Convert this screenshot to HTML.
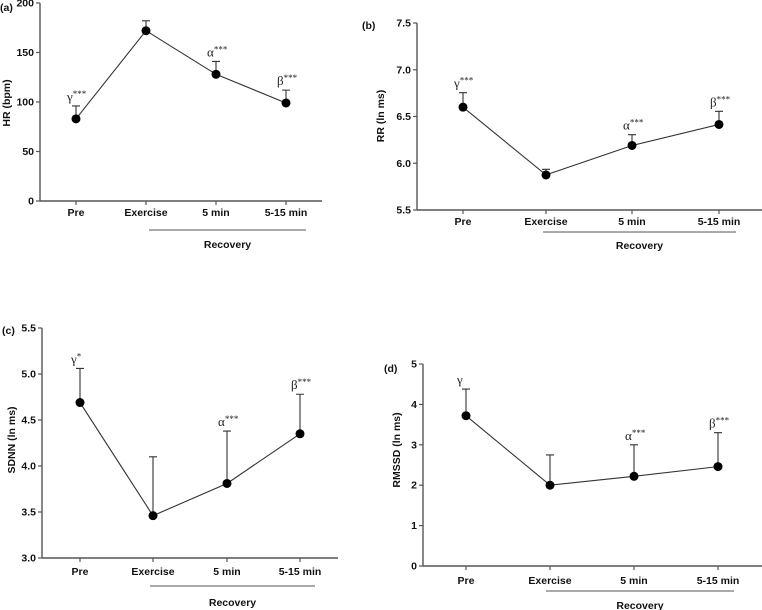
<!DOCTYPE html>
<html><head><meta charset="utf-8"><style>
html,body{margin:0;padding:0;background:#fff;}
svg{display:block;font-family:"Liberation Sans",Arial,sans-serif;}
.tk{font-size:10.5px;font-weight:bold;fill:#111;}
.yl{font-size:10.5px;font-weight:bold;fill:#111;}
.an{font-family:"Liberation Serif",serif;font-size:13px;fill:#222;}
</style></head><body>
<svg id="chart" width="762" height="610" viewBox="0 0 762 610"></svg>
<script>
const categories = ["Pre","Exercise","5 min","5-15 min"];
const hrValues = [83, 172, 128, 99];
const hrErrTop = [96, 182, 141, 112];
const hrTicks = [0, 50, 100, 150, 200];
const hrTickLabels = ["0","50","100","150","200"];
const hrAnnot = [["γ","***"],null,["α","***"],["β","***"]];
const rrValues = [6.60, 5.875, 6.19, 6.415];
const rrErrTop = [6.755, 5.935, 6.305, 6.555];
const rrTicks = [5.5, 6.0, 6.5, 7.0, 7.5];
const rrTickLabels = ["5.5","6.0","6.5","7.0","7.5"];
const rrAnnot = [["γ","***"],null,["α","***"],["β","***"]];
const sdnnValues = [4.69, 3.46, 3.81, 4.35];
const sdnnErrTop = [5.06, 4.10, 4.38, 4.78];
const sdnnTicks = [3.0, 3.5, 4.0, 4.5, 5.0, 5.5];
const sdnnTickLabels = ["3.0","3.5","4.0","4.5","5.0","5.5"];
const sdnnAnnot = [["γ","*"],null,["α","***"],["β","***"]];
const rmssdValues = [3.72, 2.0, 2.22, 2.46];
const rmssdErrTop = [4.38, 2.75, 3.0, 3.3];
const rmssdTicks = [0, 1, 2, 3, 4, 5];
const rmssdTickLabels = ["0","1","2","3","4","5"];
const rmssdAnnot = [["γ",""],null,["α","***"],["β","***"]];

const NS="http://www.w3.org/2000/svg";
const svg=document.getElementById('chart');
function mk(tag,attrs,parent,text){const e=document.createElementNS(NS,tag);for(const k in attrs)e.setAttribute(k,attrs[k]);if(text!==undefined)e.textContent=text;(parent||svg).appendChild(e);return e;}

const panels=[
 {key:"a",label:"(a)",lx:0,ly:11,ytitle:"HR (bpm)",ytx:10,yty:103,ax:40,yTop:3,yBot:201,xEnd:322,cx:[76,146,216,286],tickY:216,recY:230,rx1:149,rx2:306,recTextY:248,vals:hrValues,err:hrErrTop,ticks:hrTicks,tl:hrTickLabels,ann:hrAnnot},
 {key:"b",label:"(b)",lx:362,ly:29,ytitle:"RR (ln ms)",ytx:384,yty:116,ax:417,yTop:23,yBot:210,xEnd:762,cx:[463,546,632,719],tickY:225,recY:232,rx1:543,rx2:736,recTextY:249,vals:rrValues,err:rrErrTop,ticks:rrTicks,tl:rrTickLabels,ann:rrAnnot},
 {key:"c",label:"(c)",lx:2,ly:334,ytitle:"SDNN (ln ms)",ytx:15,yty:440,ax:42,yTop:328,yBot:558,xEnd:338,cx:[80,153,227,300],tickY:575,recY:586,rx1:150,rx2:315,recTextY:606,vals:sdnnValues,err:sdnnErrTop,ticks:sdnnTicks,tl:sdnnTickLabels,ann:sdnnAnnot},
 {key:"d",label:"(d)",lx:384,ly:372,ytitle:"RMSSD (ln ms)",ytx:400,yty:450,ax:423,yTop:364,yBot:566,xEnd:762,cx:[466,550,634,718],tickY:584,recY:591,rx1:546,rx2:734,recTextY:609,vals:rmssdValues,err:rmssdErrTop,ticks:rmssdTicks,tl:rmssdTickLabels,ann:rmssdAnnot}
];

panels.forEach(p=>{
 const g=mk('g',{});
 
 
 const y0=p.ticks[0],y1=p.ticks[p.ticks.length-1];
 const ys=v=>p.yBot-(v-y0)/(y1-y0)*(p.yBot-p.yTop);
 const xs=i=>p.cx[i];
 const pl=mk('text',{x:p.lx,y:p.ly,class:'tk','font-size':'11'},g,p.label);
 
 
 const ya=mk('line',{x1:p.ax,y1:p.yTop,x2:p.ax,y2:p.yBot,stroke:'#555','stroke-width':1.4},g);
 
 
 const xa=mk('line',{x1:p.ax,y1:p.yBot,x2:p.xEnd,y2:p.yBot,stroke:'#555','stroke-width':1.4},g);
 
 
 p.ticks.forEach((t,i)=>{
  const y=ys(t);
  mk('line',{x1:p.ax-4,y1:y,x2:p.ax,y2:y,stroke:'#555','stroke-width':1.2},g);
  const tx=mk('text',{x:p.ax-6,y:y+3.5,class:'tk','text-anchor':'end'},g,p.tl[i]);
  
  
 });
 categories.forEach((c,i)=>{
  mk('line',{x1:xs(i),y1:p.yBot,x2:xs(i),y2:p.yBot+4,stroke:'#555','stroke-width':1.2},g);
  const tx=mk('text',{x:xs(i),y:p.tickY,class:'tk','text-anchor':'middle'},g,c);
  
  
 });
 const yt=mk('text',{x:p.ytx,y:p.yty,class:'yl','text-anchor':'middle',transform:`rotate(-90 ${p.ytx} ${p.yty})`},g,p.ytitle);
 
 
 const rl=mk('line',{x1:p.rx1,y1:p.recY,x2:p.rx2,y2:p.recY,stroke:'#555','stroke-width':1},g);
 
 
 const rt=mk('text',{x:(p.rx1+p.rx2)/2,y:p.recTextY,class:'tk','font-size':'11.5','text-anchor':'middle'},g,'Recovery');
 
 
 p.vals.forEach((v,i)=>{
  const eb=mk('path',{d:`M${xs(i)} ${ys(v)}V${ys(p.err[i])}M${xs(i)-4} ${ys(p.err[i])}H${xs(i)+4}`,stroke:'#333','stroke-width':1.1,fill:'none'},g);
  
  
 });
 const ln=mk('polyline',{points:p.vals.map((v,i)=>xs(i)+','+ys(v)).join(' '),fill:'none',stroke:'#333','stroke-width':1.1},g);
 
 
 p.vals.forEach((v,i)=>{
  const pt=mk('circle',{cx:xs(i),cy:ys(v),r:4.5,fill:'#000'},g);
  
  
  const a=p.ann[i];
  if(a){
   const t=mk('text',{x:xs(i)-9,y:ys(p.err[i])-5,class:'an'},g);
   
   
   mk('tspan',{},t,a[0]);
   if(a[1])mk('tspan',{dy:-4,'font-size':'9'},t,a[1]);
  }
 });
});
</script>
</body></html>
